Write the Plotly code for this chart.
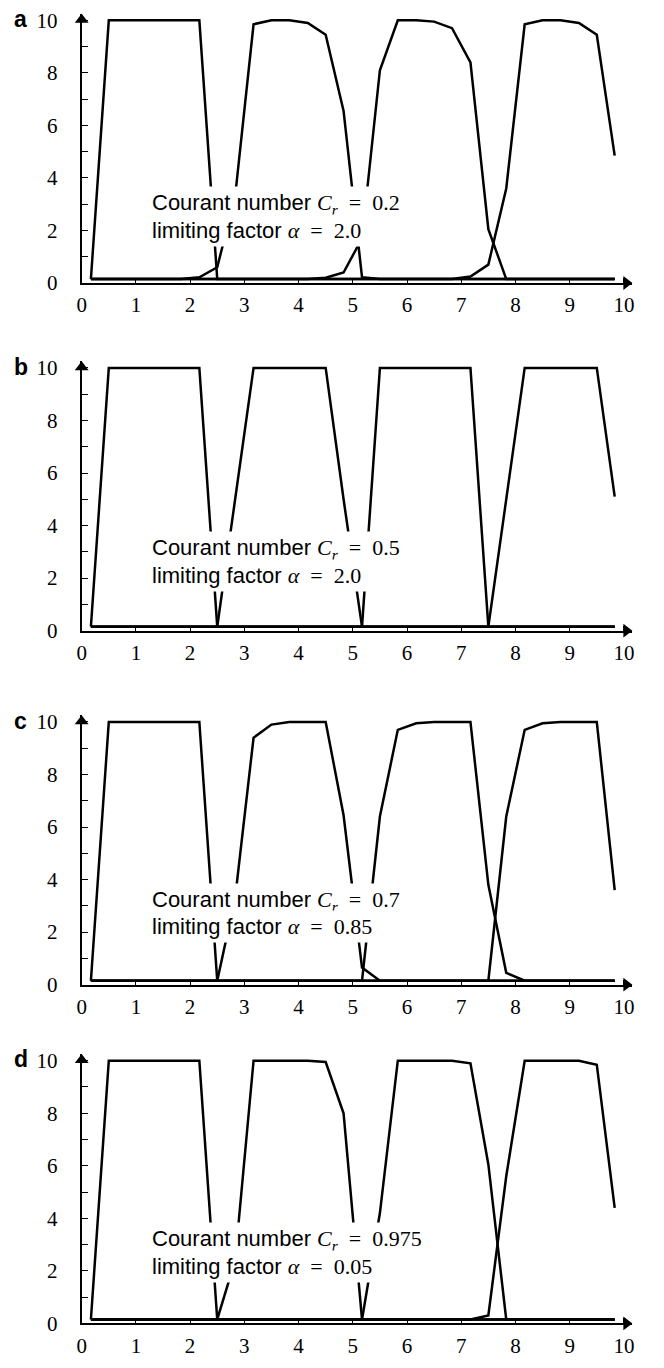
import plotly.graph_objects as go
from plotly.subplots import make_subplots

# ---------------- data ----------------
x_grid = [0.17, 0.5, 0.83, 1.17, 1.5, 1.83, 2.17, 2.5, 2.83, 3.17,
          3.5, 3.83, 4.17, 4.5, 4.83, 5.17, 5.5, 5.83, 6.17, 6.5,
          6.83, 7.17, 7.5, 7.83, 8.17, 8.5, 8.83, 9.17, 9.5, 9.83]

square_init = [0.15, 10, 10, 10, 10, 10, 10, 0.15, 0.15, 0.15,
               0.15, 0.15, 0.15, 0.15, 0.15, 0.15, 0.15, 0.15, 0.15, 0.15,
               0.15, 0.15, 0.15, 0.15, 0.15, 0.15, 0.15, 0.15, 0.15, 0.15]

a_t1 = [0.15, 0.15, 0.15, 0.15, 0.15, 0.15, 0.22, 0.6, 3.3, 9.85,
        10.0, 10.0, 9.9, 9.45, 6.55, 0.22, 0.15, 0.15, 0.15, 0.15,
        0.15, 0.15, 0.15, 0.15, 0.15, 0.15, 0.15, 0.15, 0.15, 0.15]
a_t2 = [0.15, 0.15, 0.15, 0.15, 0.15, 0.15, 0.15, 0.15, 0.15, 0.15,
        0.15, 0.15, 0.15, 0.2, 0.4, 1.7, 8.1, 10.0, 10.0, 9.95,
        9.7, 8.4, 2.05, 0.15, 0.15, 0.15, 0.15, 0.15, 0.15, 0.15]
a_t3 = [0.15, 0.15, 0.15, 0.15, 0.15, 0.15, 0.15, 0.15, 0.15, 0.15,
        0.15, 0.15, 0.15, 0.15, 0.15, 0.15, 0.15, 0.15, 0.15, 0.15,
        0.15, 0.25, 0.7, 3.6, 9.85, 10.0, 10.0, 9.9, 9.45, 4.85]

b_t1 = [0.15, 0.15, 0.15, 0.15, 0.15, 0.15, 0.15, 0.15, 5.0, 10.0,
        10.0, 10.0, 10.0, 10.0, 5.0, 0.15, 0.15, 0.15, 0.15, 0.15,
        0.15, 0.15, 0.15, 0.15, 0.15, 0.15, 0.15, 0.15, 0.15, 0.15]
b_t2 = [0.15, 0.15, 0.15, 0.15, 0.15, 0.15, 0.15, 0.15, 0.15, 0.15,
        0.15, 0.15, 0.15, 0.15, 0.15, 0.15, 10.0, 10.0, 10.0, 10.0,
        10.0, 10.0, 0.15, 0.15, 0.15, 0.15, 0.15, 0.15, 0.15, 0.15]
b_t3 = [0.15, 0.15, 0.15, 0.15, 0.15, 0.15, 0.15, 0.15, 0.15, 0.15,
        0.15, 0.15, 0.15, 0.15, 0.15, 0.15, 0.15, 0.15, 0.15, 0.15,
        0.15, 0.15, 0.15, 5.0, 10.0, 10.0, 10.0, 10.0, 10.0, 5.1]

c_t1 = [0.15, 0.15, 0.15, 0.15, 0.15, 0.15, 0.15, 0.15, 3.3, 9.4,
        9.9, 10.0, 10.0, 10.0, 6.45, 0.65, 0.15, 0.15, 0.15, 0.15,
        0.15, 0.15, 0.15, 0.15, 0.15, 0.15, 0.15, 0.15, 0.15, 0.15]
c_t2 = [0.15, 0.15, 0.15, 0.15, 0.15, 0.15, 0.15, 0.15, 0.15, 0.15,
        0.15, 0.15, 0.15, 0.15, 0.15, 0.15, 6.4, 9.7, 9.95, 10.0,
        10.0, 10.0, 3.8, 0.45, 0.15, 0.15, 0.15, 0.15, 0.15, 0.15]
c_t3 = [0.15, 0.15, 0.15, 0.15, 0.15, 0.15, 0.15, 0.15, 0.15, 0.15,
        0.15, 0.15, 0.15, 0.15, 0.15, 0.15, 0.15, 0.15, 0.15, 0.15,
        0.15, 0.15, 0.15, 6.4, 9.7, 9.95, 10.0, 10.0, 10.0, 3.6]

d_t1 = [0.15, 0.15, 0.15, 0.15, 0.15, 0.15, 0.15, 0.15, 2.4, 10.0,
        10.0, 10.0, 10.0, 9.95, 8.0, 0.15, 0.15, 0.15, 0.15, 0.15,
        0.15, 0.15, 0.15, 0.15, 0.15, 0.15, 0.15, 0.15, 0.15, 0.15]
d_t2 = [0.15, 0.15, 0.15, 0.15, 0.15, 0.15, 0.15, 0.15, 0.15, 0.15,
        0.15, 0.15, 0.15, 0.15, 0.15, 0.15, 4.2, 10.0, 10.0, 10.0,
        10.0, 9.9, 6.05, 0.15, 0.15, 0.15, 0.15, 0.15, 0.15, 0.15]
d_t3 = [0.15, 0.15, 0.15, 0.15, 0.15, 0.15, 0.15, 0.15, 0.15, 0.15,
        0.15, 0.15, 0.15, 0.15, 0.15, 0.15, 0.15, 0.15, 0.15, 0.15,
        0.15, 0.15, 0.3, 5.6, 10.0, 10.0, 10.0, 10.0, 9.85, 4.4]

panel_letters = ["a", "b", "c", "d"]
courant_numbers = ["0.2", "0.5", "0.7", "0.975"]
limiting_factors = ["2.0", "2.0", "0.85", "0.05"]
panel_series = [
    [square_init, a_t1, a_t2, a_t3],
    [square_init, b_t1, b_t2, b_t3],
    [square_init, c_t1, c_t2, c_t3],
    [square_init, d_t1, d_t2, d_t3],
]
x_ticks = [0, 1, 2, 3, 4, 5, 6, 7, 8, 9, 10]
y_major_ticks = [0, 2, 4, 6, 8, 10]
y_minor_ticks = [1, 3, 5, 7, 9]

# ---------------- layout geometry (pixels) ----------------
W, H = 664, 1368
X0_PX = 77.5          # pixel of x = 0
X_UNIT = 54.8         # px per x unit
X_RIGHT_PX = 634.0    # arrow tip
Y_UNIT = 26.6
Y_TOP = 10.25
Y0_PX = [281.5, 633.5, 992.0, 1335.0]   # pixel of y = 0 for each panel
TEXT_Y1 = [3.0, 3.1, 3.2, 3.18]          # centre of first text line (data units)
BOX_W = [272, 272, 272, 296]             # label box widths (px)
ARROW_SIZE = 12                          # arrowhead marker size (px)

x_max = (X_RIGHT_PX - X0_PX) / X_UNIT
head_r = ARROW_SIZE / 2.0

fig = make_subplots(rows=4, cols=1)

serif = "Liberation Serif"
sans = "Liberation Sans"

for i in range(4):
    r = i + 1
    for ys in panel_series[i]:
        fig.add_trace(go.Scatter(x=x_grid, y=ys, mode="lines",
                                 line=dict(color="black", width=2.5),
                                 showlegend=False, hoverinfo="skip"),
                      row=r, col=1)
    # arrowheads at the ends of the axes
    fig.add_trace(go.Scatter(x=[0, x_max - head_r / X_UNIT],
                             y=[Y_TOP - head_r / Y_UNIT, 0],
                             mode="markers", cliponaxis=False,
                             marker=dict(symbol=["triangle-up", "triangle-right"],
                                         size=ARROW_SIZE, color="black",
                                         line=dict(width=0)),
                             showlegend=False, hoverinfo="skip"),
                  row=r, col=1)
    y0 = Y0_PX[i]
    ytop = y0 - Y_TOP * Y_UNIT
    dom = [1 - y0 / H, 1 - ytop / H]
    xname = "xaxis" if i == 0 else f"xaxis{r}"
    yname = "yaxis" if i == 0 else f"yaxis{r}"
    fig.layout[xname].update(
        domain=[X0_PX / W, X_RIGHT_PX / W], range=[0, x_max],
        showgrid=False, zeroline=False, showline=True, linecolor="black", linewidth=2,
        ticks="inside", ticklen=5, tickwidth=1, tickcolor="black",
        tickvals=x_ticks, ticktext=[str(v) for v in x_ticks],
        tickfont=dict(family=serif, size=21, color="black"),
        ticklabelstandoff=2,
    )
    fig.layout[yname].update(
        domain=dom, range=[0, Y_TOP],
        showgrid=False, zeroline=False, showline=True, linecolor="black", linewidth=2,
        ticks="inside", ticklen=6, tickwidth=1, tickcolor="black",
        tickvals=y_major_ticks, ticktext=[str(v) for v in y_major_ticks],
        tickfont=dict(family=serif, size=21, color="black"),
        ticklabelstandoff=18,
        minor=dict(tickvals=y_minor_ticks, ticks="inside", ticklen=6, tickwidth=1,
                   tickcolor="black", showgrid=False),
    )
    xr = "x" if i == 0 else f"x{r}"
    yr = "y" if i == 0 else f"y{r}"
    # panel letter
    fig.add_annotation(x=16 / W, xref="paper", y=10.05, yref=yr, text=f"<b>{panel_letters[i]}</b>",
                       showarrow=False, xanchor="center", yanchor="middle",
                       font=dict(family=sans, size=23, color="black"))
    # text box (two lines, each with white background)
    line1 = (f"Courant number <span style='font-family:{serif}'>"
             f"<i>C<sub>r</sub></i>&nbsp;&nbsp;=&nbsp;&nbsp;{courant_numbers[i]}</span>")
    line2 = (f"limiting factor <span style='font-family:{serif}'>"
             f"<i>α</i>&nbsp;&nbsp;=&nbsp;&nbsp;{limiting_factors[i]}</span>")
    for k, txt in enumerate([line1, line2]):
        fig.add_annotation(x=1.22, y=TEXT_Y1[i] - k, xref=xr, yref=yr, text=txt, showarrow=False,
                           xanchor="left", yanchor="middle", align="left",
                           width=BOX_W[i], bgcolor="white", borderpad=3,
                           font=dict(family=sans, size=22, color="black"))

fig.update_layout(width=W, height=H, margin=dict(l=0, r=0, t=0, b=0),
                  paper_bgcolor="white", plot_bgcolor="white", showlegend=False)

fig.write_html("out.html")
